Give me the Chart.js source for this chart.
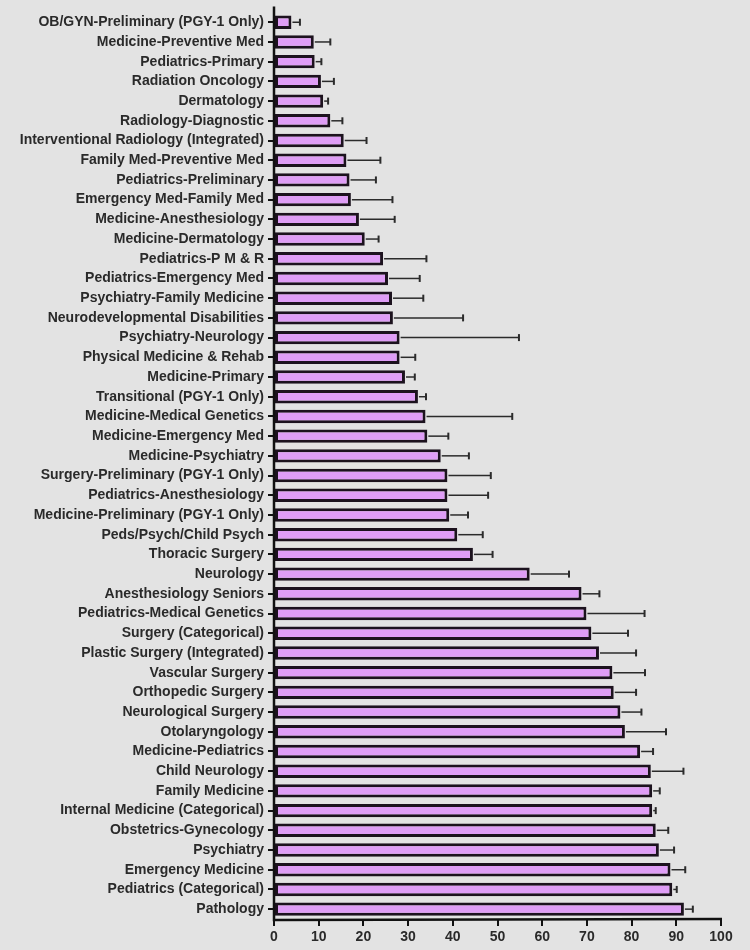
<!DOCTYPE html>
<html lang="en">
<head>
    <meta charset="UTF-8">
    <title>Specialties</title>
    <script src="https://cdn.jsdelivr.net/npm/chart.js"></script>
    <style>
        body { margin: 0; background: #e3e3e3; overflow: hidden; }
        #grafico { display: block; }
    </style>
</head>
<body>
    <canvas id="grafico" width="750" height="950"></canvas>

    <script>
        let categorias = [
            "OB/GYN-Preliminary (PGY-1 Only)", "Medicine-Preventive Med", "Pediatrics-Primary",
            "Radiation Oncology", "Dermatology", "Radiology-Diagnostic",
            "Interventional Radiology (Integrated)", "Family Med-Preventive Med", "Pediatrics-Preliminary",
            "Emergency Med-Family Med", "Medicine-Anesthesiology", "Medicine-Dermatology",
            "Pediatrics-P M & R", "Pediatrics-Emergency Med", "Psychiatry-Family Medicine",
            "Neurodevelopmental Disabilities", "Psychiatry-Neurology", "Physical Medicine & Rehab",
            "Medicine-Primary", "Transitional (PGY-1 Only)", "Medicine-Medical Genetics",
            "Medicine-Emergency Med", "Medicine-Psychiatry", "Surgery-Preliminary (PGY-1 Only)",
            "Pediatrics-Anesthesiology", "Medicine-Preliminary (PGY-1 Only)", "Peds/Psych/Child Psych",
            "Thoracic Surgery", "Neurology", "Anesthesiology Seniors",
            "Pediatrics-Medical Genetics", "Surgery (Categorical)", "Plastic Surgery (Integrated)",
            "Vascular Surgery", "Orthopedic Surgery", "Neurological Surgery",
            "Otolaryngology", "Medicine-Pediatrics", "Child Neurology",
            "Family Medicine", "Internal Medicine (Categorical)", "Obstetrics-Gynecology",
            "Psychiatry", "Emergency Medicine", "Pediatrics (Categorical)", "Pathology"
        ];
        let medias = [
            3.9, 8.9, 9.1, 10.5, 11.0, 12.6, 15.6, 16.2, 16.9, 17.2, 19.0, 20.3,
            24.4, 25.5, 26.4, 26.6, 28.1, 28.1, 29.3, 32.2, 33.9, 34.3, 37.3, 38.8,
            38.8, 39.2, 41.0, 44.5, 57.2, 68.8, 69.9, 71.0, 72.7, 75.7, 76.0, 77.5,
            78.5, 81.9, 84.3, 84.6, 84.6, 85.4, 86.1, 88.7, 89.1, 91.7
        ];
        let errores = [
            1.9, 3.7, 1.5, 2.9, 1.1, 2.7, 5.1, 7.6, 5.9, 9.3, 8.0, 3.1,
            9.7, 7.1, 7.0, 15.7, 26.7, 3.5, 2.2, 1.8, 19.4, 4.7, 6.3, 9.7,
            9.1, 4.2, 5.7, 4.4, 8.8, 4.0, 13.0, 8.2, 8.3, 7.3, 5.0, 4.7,
            9.2, 2.9, 7.3, 1.7, 0.8, 2.8, 3.4, 3.3, 1.0, 2.0
        ];
        let ticksX = [0, 10, 20, 30, 40, 50, 60, 70, 80, 90, 100];

        // barras de error (solo hacia la derecha) y ejes
        const barrasError = {
            id: 'barrasError',
            afterDatasetsDraw(chart) {
                const c = chart.ctx;
                const x = chart.scales.x, y = chart.scales.y;
                c.save();
                c.strokeStyle = '#2b2b2b';
                c.lineWidth = 1.5;
                medias.forEach((m, i) => {
                    const yy = y.getPixelForValue(i);
                    const x0 = x.getPixelForValue(m);
                    const x1 = x.getPixelForValue(m + errores[i]);
                    c.beginPath();
                    c.moveTo(x0 + 1, yy);
                    c.lineTo(x1, yy);
                    c.stroke();
                    c.lineWidth = 2;
                    c.beginPath();
                    c.moveTo(x1, yy - 3.5);
                    c.lineTo(x1, yy + 3.5);
                    c.stroke();
                    c.lineWidth = 1.5;
                });
                // ejes
                const a = chart.chartArea;
                c.strokeStyle = '#111';
                c.lineWidth = 2.5;
                c.beginPath();
                c.moveTo(a.left, a.top - 6);
                c.lineTo(a.left, a.bottom + 1);
                c.lineTo(x.getPixelForValue(100) + 1, a.bottom);
                c.stroke();
                c.restore();
            }
        };

        let ctx = document.getElementById('grafico').getContext('2d');
        let chart = new Chart(ctx, {
            type: 'bar',
            data: {
                labels: categorias,
                datasets: [{
                    data: medias,
                    backgroundColor: '#df9df6',
                    borderColor: '#1c121e',
                    borderWidth: 3,
                    borderSkipped: false,
                    barPercentage: 0.68,
                    categoryPercentage: 1
                }]
            },
            options: {
                indexAxis: 'y',
                responsive: false,
                animation: false,
                layout: { padding: { top: 11, right: 29, left: 0, bottom: 0 } },
                plugins: { legend: { display: false }, tooltip: { enabled: false } },
                scales: {
                    x: {
                        min: 0, max: 100,
                        afterBuildTicks: s => { s.ticks = ticksX.map(v => ({ value: v })); },
                        afterFit: s => { s.height = 31; },
                        border: { display: false },
                        grid: { drawOnChartArea: false, tickLength: 7, color: '#111', lineWidth: 2 },
                        ticks: { color: '#2a2a2a', padding: 3, maxRotation: 0,
                                 font: { family: 'Arial, "Liberation Sans"', size: 14, weight: 'bold' } }
                    },
                    y: {
                        afterFit: s => { s.width = 274; },
                        border: { display: false },
                        grid: { drawOnChartArea: false, offset: false, tickLength: 6, color: '#111', lineWidth: 2 },
                        ticks: { color: '#2a2a2a', padding: 4, autoSkip: false,
                                 font: { family: 'Arial, "Liberation Sans"', size: 14, weight: 'bold' } }
                    }
                }
            },
            plugins: [barrasError]
        });
    </script>
</body>
</html>
